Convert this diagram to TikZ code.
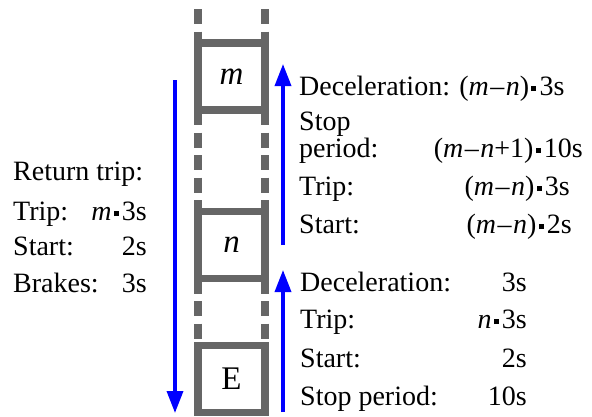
\documentclass[tikz,border=0pt]{standalone}
\usepackage{fontspec}
\setmainfont{Liberation Serif}
\usetikzlibrary{arrows.meta}
\definecolor{railgray}{HTML}{666666}
\definecolor{arrowblue}{HTML}{0000FF}
\newcommand\sqd{\hspace{2.2pt}\rule[3.8pt]{5pt}{5.5pt}\hspace{3.2pt}}
\newcommand\mns{\kern1.5pt–\kern1.5pt}
\begin{document}
\begin{tikzpicture}[x=1pt,y=-1pt,
  car/.style={draw=railgray, line width=7.5pt, minimum width=67pt, minimum height=67pt, inner sep=0pt, outer sep=0pt, font=\fontsize{33}{36}\selectfont},
  rail/.style={draw=railgray, line width=7.5pt, dash pattern=on 15pt off 7.5pt},
  dir/.style={draw=arrowblue, line width=3.5pt, -{Triangle[width=16pt,length=22pt]}},
  lbl/.style={inner sep=0pt, font=\fontsize{28}{30}\selectfont}]
\useasboundingbox (0,0) rectangle (592,416);
% cars
\node[car] (m) at (231.5,76.5) {\textit{m}};
\node[car] (n) at (231.5,245) {\textit{n}};
\node[car] (E) at (231.5,379) {E};
% rails
\coordinate (tl) at (198,9);
\coordinate (tr) at (265,9);
\draw[rail] (tl) -- (m.north west);
\draw[rail] (tr) -- (m.north east);
\draw[rail] (m.south west) -- (n.north west);
\draw[rail] (m.south east) -- (n.north east);
\draw[rail] (n.south west) -- (E.north west);
\draw[rail] (n.south east) -- (E.north east);
% arrows
\coordinate (d0) at (175,80);
\coordinate (d1) at (175,413);
\draw[dir] (d0) -- (d1);
\coordinate (u0) at (283,245);
\coordinate (u1) at (283,64);
\draw[dir] (u0) -- (u1);
\coordinate (v0) at (283,412);
\coordinate (v1) at (283,270);
\draw[dir] (v0) -- (v1);
% left block
\node[lbl, anchor=base west] (rt) at (13,180) {Return trip:};
\node[lbl, anchor=base west] (t1) at (13,220) {Trip:};
\node[lbl, anchor=base east] (t1v) at (147,220) {\textit{m}\sqd 3s};
\node[lbl, anchor=base west] (s1) at (13,255) {Start:};
\node[lbl, anchor=base east] (s1v) at (147,255) {2s};
\node[lbl, anchor=base west] (b1) at (13,292) {Brakes:};
\node[lbl, anchor=base east] (b1v) at (147,292) {3s};
% upper right block
\node[lbl, anchor=base west] (ud) at (299,95) {Deceleration: (\textit{m}\mns\textit{n})\sqd 3s};
\node[lbl, anchor=base west] (us) at (299,130) {Stop};
\node[lbl, anchor=base west] (up) at (299,157) {period:};
\node[lbl, anchor=base east] (upv) at (583,157) {(\textit{m}\mns\textit{n}+1)\sqd 10s};
\node[lbl, anchor=base west] (ut) at (299,195) {Trip:};
\node[lbl, anchor=base east] (utv) at (570,195) {(\textit{m}\mns\textit{n})\sqd 3s};
\node[lbl, anchor=base west] (ua) at (299,233) {Start:};
\node[lbl, anchor=base east] (uav) at (572,233) {(\textit{m}\mns\textit{n})\sqd 2s};
% lower right block
\node[lbl, anchor=base west] (ld) at (300,291) {Deceleration:};
\node[lbl, anchor=base east] (ldv) at (527,291) {3s};
\node[lbl, anchor=base west] (lt) at (300,328) {Trip:};
\node[lbl, anchor=base east] (ltv) at (527,328) {\textit{n}\sqd 3s};
\node[lbl, anchor=base west] (la) at (300,367) {Start:};
\node[lbl, anchor=base east] (lav) at (527,367) {2s};
\node[lbl, anchor=base west] (lp) at (300,405) {Stop period:};
\node[lbl, anchor=base east] (lpv) at (527,405) {10s};
\end{tikzpicture}
\end{document}
